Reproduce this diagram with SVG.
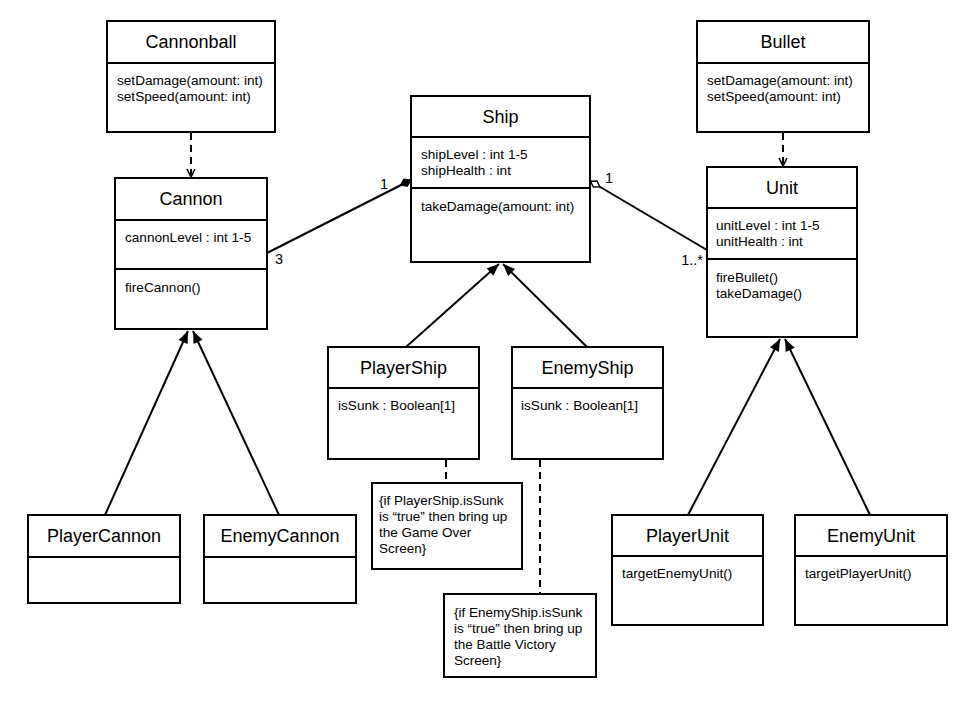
<svg xmlns="http://www.w3.org/2000/svg" width="960" height="720" viewBox="0 0 960 720">
<style>
  .box { fill: #ffffff; stroke: #000000; stroke-width: 2; }
  .div { stroke: #000000; stroke-width: 2; fill: none; }
  .t { font-family: "Liberation Sans", Arial, sans-serif; font-size: 18px; text-anchor: middle; fill: #000; }
  .m { font-family: "Liberation Sans", Arial, sans-serif; font-size: 13.6px; fill: #000; }
  .n { font-family: "Liberation Sans", Arial, sans-serif; font-size: 13.5px; fill: #000; }
  .mult { font-family: "Liberation Sans", Arial, sans-serif; font-size: 14.5px; fill: #000; }
  .line { stroke: #000; stroke-width: 2; fill: none; }
  .dash { stroke: #000; stroke-width: 2; fill: none; stroke-dasharray: 7 5; }
  .gen { marker-end: url(#tri); }
  .dep { marker-end: url(#vee); }
</style>
<defs>
  <marker id="tri" markerUnits="userSpaceOnUse" markerWidth="14" markerHeight="12" refX="12" refY="5" orient="auto" overflow="visible">
    <path d="M0,0 L12,5 L0,10 Z" fill="#000"/>
  </marker>
  <marker id="vee" markerUnits="userSpaceOnUse" markerWidth="10" markerHeight="10" refX="8" refY="4" orient="auto" overflow="visible">
    <path d="M0,0 L8,4 L0,8" fill="none" stroke="#000" stroke-width="1.6"/>
  </marker>
  <marker id="dfill" markerUnits="userSpaceOnUse" markerWidth="14" markerHeight="10" refX="0" refY="4" orient="auto" overflow="visible">
    <path d="M0,4 L6,0 L12,4 L6,8 Z" fill="#000" stroke="#000" stroke-width="1"/>
  </marker>
  <marker id="dhollow" markerUnits="userSpaceOnUse" markerWidth="14" markerHeight="10" refX="0" refY="4" orient="auto" overflow="visible">
    <path d="M0.5,4 L6,0.5 L11.5,4 L6,7.5 Z" fill="#fff" stroke="#000" stroke-width="1.4"/>
  </marker>
</defs>

<g id="connectors">
  <!-- dependencies -->
  <line class="dash dep" x1="191" y1="133" x2="191" y2="177"/>
  <line class="dash dep" x1="783" y1="133" x2="783" y2="166"/>
  <!-- composition Ship - Cannon -->
  <line class="line" x1="411" y1="180" x2="267" y2="253" marker-start="url(#dfill)"/>
  <!-- aggregation Ship - Unit -->
  <line class="line" x1="590" y1="181" x2="707" y2="250" marker-start="url(#dhollow)"/>
  <!-- generalizations -->
  <line class="line gen" x1="105" y1="515" x2="188" y2="331"/>
  <line class="line gen" x1="279" y1="515" x2="193" y2="331"/>
  <line class="line gen" x1="406" y1="347" x2="499" y2="264"/>
  <line class="line gen" x1="587" y1="347" x2="503" y2="264"/>
  <line class="line gen" x1="688" y1="515" x2="780" y2="339"/>
  <line class="line gen" x1="870" y1="515" x2="785" y2="339"/>
  <!-- note anchors -->
  <line class="dash" x1="446" y1="460" x2="446" y2="483"/>
  <line class="dash" x1="540" y1="460" x2="540" y2="594"/>
  <!-- multiplicities -->
  <text class="mult" x="380" y="189">1</text>
  <text class="mult" x="275" y="264">3</text>
  <text class="mult" x="605" y="183">1</text>
  <text class="mult" x="703" y="265" text-anchor="end">1..*</text>
</g>

<g id="Cannonball">
  <rect class="box" x="107" y="21" width="168" height="111"/>
  <line class="div" x1="107" y1="63" x2="275" y2="63"/>
  <text class="t" x="191" y="48">Cannonball</text>
  <text class="m" x="117" y="85">setDamage(amount: int)</text>
  <text class="m" x="117" y="101">setSpeed(amount: int)</text>
</g>

<g id="Bullet">
  <rect class="box" x="697" y="21" width="172" height="111"/>
  <line class="div" x1="697" y1="63" x2="869" y2="63"/>
  <text class="t" x="783" y="48">Bullet</text>
  <text class="m" x="707" y="85">setDamage(amount: int)</text>
  <text class="m" x="707" y="101">setSpeed(amount: int)</text>
</g>

<g id="Cannon">
  <rect class="box" x="115" y="178" width="152" height="151"/>
  <line class="div" x1="115" y1="220" x2="267" y2="220"/>
  <line class="div" x1="115" y1="269" x2="267" y2="269"/>
  <text class="t" x="191" y="205">Cannon</text>
  <text class="m" x="125" y="242">cannonLevel : int 1-5</text>
  <text class="m" x="125" y="292">fireCannon()</text>
</g>

<g id="Ship">
  <rect class="box" x="411" y="96" width="179" height="166"/>
  <line class="div" x1="411" y1="137" x2="590" y2="137"/>
  <line class="div" x1="411" y1="188" x2="590" y2="188"/>
  <text class="t" x="500.5" y="123">Ship</text>
  <text class="m" x="421" y="159">shipLevel : int 1-5</text>
  <text class="m" x="421" y="175">shipHealth : int</text>
  <text class="m" x="421" y="211">takeDamage(amount: int)</text>
</g>

<g id="Unit">
  <rect class="box" x="707" y="167" width="150" height="170"/>
  <line class="div" x1="707" y1="208" x2="857" y2="208"/>
  <line class="div" x1="707" y1="259" x2="857" y2="259"/>
  <text class="t" x="782" y="194">Unit</text>
  <text class="m" x="716" y="230">unitLevel : int 1-5</text>
  <text class="m" x="716" y="246">unitHealth : int</text>
  <text class="m" x="716" y="282">fireBullet()</text>
  <text class="m" x="716" y="298">takeDamage()</text>
</g>

<g id="PlayerShip">
  <rect class="box" x="328" y="347" width="151" height="112"/>
  <line class="div" x1="328" y1="388" x2="479" y2="388"/>
  <text class="t" x="403.5" y="374">PlayerShip</text>
  <text class="m" x="338" y="410">isSunk : Boolean[1]</text>
</g>

<g id="EnemyShip">
  <rect class="box" x="512" y="347" width="151" height="112"/>
  <line class="div" x1="512" y1="388" x2="663" y2="388"/>
  <text class="t" x="587.5" y="374">EnemyShip</text>
  <text class="m" x="521" y="410">isSunk : Boolean[1]</text>
</g>

<g id="PlayerShipNote">
  <rect class="box" x="372" y="483" width="150" height="86"/>
  <text class="n" x="379" y="505">{if PlayerShip.isSunk</text>
  <text class="n" x="379" y="521">is “true” then bring up</text>
  <text class="n" x="379" y="537">the Game Over</text>
  <text class="n" x="379" y="553">Screen}</text>
</g>

<g id="EnemyShipNote">
  <rect class="box" x="444" y="594" width="152" height="83"/>
  <text class="n" x="454" y="617">{if EnemyShip.isSunk</text>
  <text class="n" x="454" y="633">is “true” then bring up</text>
  <text class="n" x="454" y="649">the Battle Victory</text>
  <text class="n" x="454" y="665">Screen}</text>
</g>

<g id="PlayerCannon">
  <rect class="box" x="28" y="515" width="152" height="88"/>
  <line class="div" x1="28" y1="557" x2="180" y2="557"/>
  <text class="t" x="104" y="542">PlayerCannon</text>
</g>

<g id="EnemyCannon">
  <rect class="box" x="204" y="515" width="152" height="88"/>
  <line class="div" x1="204" y1="557" x2="356" y2="557"/>
  <text class="t" x="280" y="542">EnemyCannon</text>
</g>

<g id="PlayerUnit">
  <rect class="box" x="612" y="515" width="151" height="110"/>
  <line class="div" x1="612" y1="556" x2="763" y2="556"/>
  <text class="t" x="687.5" y="542">PlayerUnit</text>
  <text class="m" x="622" y="578">targetEnemyUnit()</text>
</g>

<g id="EnemyUnit">
  <rect class="box" x="795" y="515" width="152" height="110"/>
  <line class="div" x1="795" y1="556" x2="947" y2="556"/>
  <text class="t" x="871" y="542">EnemyUnit</text>
  <text class="m" x="805" y="578">targetPlayerUnit()</text>
</g>
</svg>
